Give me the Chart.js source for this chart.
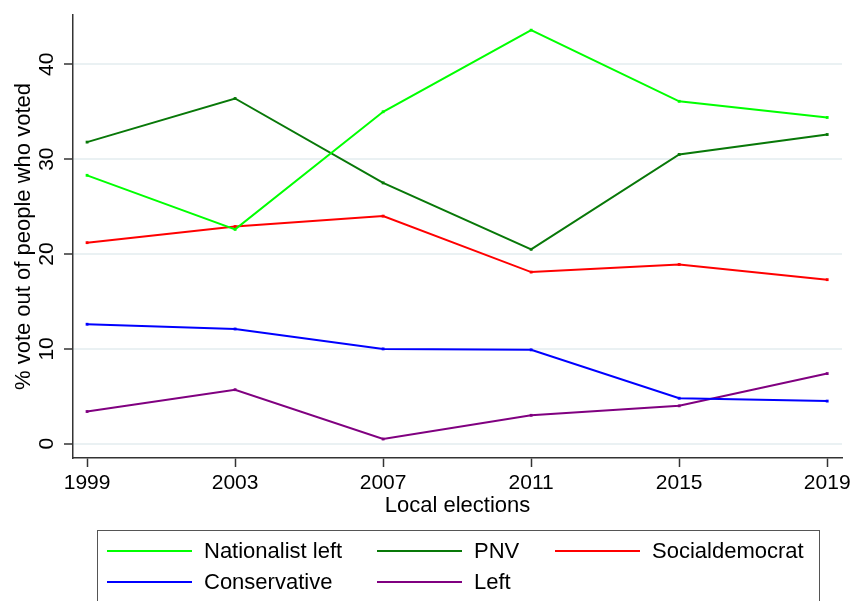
<!DOCTYPE html>
<html>
<head>
<meta charset="utf-8">
<script src="https://cdn.jsdelivr.net/npm/chart.js@4/dist/chart.umd.min.js"></script>
<style>
  html, body { margin: 0; padding: 0; background: #fff; overflow: hidden; }
  #wrap { position: relative; width: 857px; height: 601px; }
  #legend {
    position: absolute; left: 97px; top: 530px; width: 723px; height: 90px;
    border: 1.5px solid #555; box-sizing: border-box;
    font-family: "Liberation Sans", Arial, sans-serif; font-size: 22px; color: #000;
  }
  .item { position: absolute; height: 26px; line-height: 26px; white-space: nowrap; }
  .item span.swatch { position: absolute; left: 0; top: 12px; width: 85px; height: 2px; }
  .item span.lbl { position: absolute; left: 97px; top: 0; }
</style>
</head>
<body>
<div id="wrap">
  <canvas id="chart" width="857" height="601"></canvas>
  <div id="legend"></div>
</div>
<script>
// data
const years = [1999, 2003, 2007, 2011, 2015, 2019];
const yTicks = [0, 10, 20, 30, 40];

const nationalistLeft = [28.3, 22.6, 35.0, 43.6, 36.1, 34.4];
const pnv = [31.8, 36.4, 27.5, 20.5, 30.5, 32.6];
const socialdemocrat = [21.2, 22.9, 24.0, 18.1, 18.9, 17.3];
const conservative = [12.6, 12.1, 10.0, 9.9, 4.8, 4.5];
const left = [3.4, 5.7, 0.5, 3.0, 4.0, 7.4];

const seriesNames = ['Nationalist left', 'PNV', 'Socialdemocrat', 'Conservative', 'Left'];
const seriesValues = [nationalistLeft, pnv, socialdemocrat, conservative, left];
const seriesColors = ['#00ff00', '#087808', '#ff0000', '#0000ff', '#800080'];

const FONT = '"Liberation Sans", Arial, sans-serif';

const datasets = seriesNames.map((name, i) => ({
  label: name,
  data: years.map((y, j) => ({ x: y, y: seriesValues[i][j] })),
  borderColor: seriesColors[i],
  backgroundColor: seriesColors[i],
  borderWidth: 2,
  pointStyle: 'rect',
  pointRadius: 2,
  pointBorderWidth: 0,
  tension: 0
}));

// y tick labels rotated like the original
const rotatedYLabels = {
  id: 'rotatedYLabels',
  afterDraw(chart) {
    const ctx = chart.ctx;
    const ys = chart.scales.y;
    ctx.save();
    ctx.font = '21px ' + FONT;
    ctx.fillStyle = '#000';
    ctx.textAlign = 'center';
    ctx.textBaseline = 'middle';
    yTicks.forEach(v => {
      const py = ys.getPixelForValue(v);
      ctx.save();
      ctx.translate(47, py);
      ctx.rotate(-Math.PI / 2);
      ctx.fillText(String(v), 0, 0);
      ctx.restore();
    });
    ctx.restore();
  }
};

new Chart(document.getElementById('chart'), {
  type: 'line',
  data: { datasets },
  plugins: [rotatedYLabels],
  options: {
    responsive: false,
    animation: false,
    layout: { padding: { left: 0, right: 15, top: 15, bottom: 81 } },
    plugins: { legend: { display: false }, tooltip: { enabled: false } },
    scales: {
      x: {
        type: 'linear',
        min: 1998.62,
        max: 2019.4,
        afterBuildTicks: s => { s.ticks = years.map(v => ({ value: v })); },
        afterFit: s => { s.height = 62; },
        grid: { drawOnChartArea: false, drawTicks: true, tickLength: 9, tickColor: '#333', tickWidth: 1.5 },
        border: { display: true, color: '#333', width: 1.5 },
        ticks: { color: '#000', font: { family: FONT, size: 21 }, padding: 4, maxRotation: 0, callback: v => String(v) },
        title: { display: true, text: 'Local elections', color: '#000', font: { family: FONT, size: 22 }, padding: { top: 0, bottom: 1 } }
      },
      y: {
        min: -1.5,
        max: 45.2,
        afterBuildTicks: s => { s.ticks = yTicks.map(v => ({ value: v })); },
        afterFit: s => { s.width = 73; },
        grid: { color: '#eaf1f3', lineWidth: 2, drawTicks: true, tickLength: 9, tickColor: '#333', tickWidth: 1.5 },
        border: { display: true, color: '#333', width: 1.5 },
        ticks: { display: false },
        title: { display: true, text: '% vote out of people who voted', color: '#000', font: { family: FONT, size: 22 }, padding: { top: 11, bottom: 0 } }
      }
    }
  }
});

// legend below the plot, three columns like the original
const legendBox = document.getElementById('legend');
const colX = [9, 279, 457];
const rowY = [7, 38];
seriesNames.forEach((name, i) => {
  const item = document.createElement('div');
  item.className = 'item';
  item.style.left = colX[i % 3] + 'px';
  item.style.top = rowY[Math.floor(i / 3)] + 'px';
  item.innerHTML = '<span class="swatch" style="background:' + seriesColors[i] + '"></span><span class="lbl"></span>';
  item.querySelector('.lbl').textContent = name;
  legendBox.appendChild(item);
});
</script>
</body>
</html>
